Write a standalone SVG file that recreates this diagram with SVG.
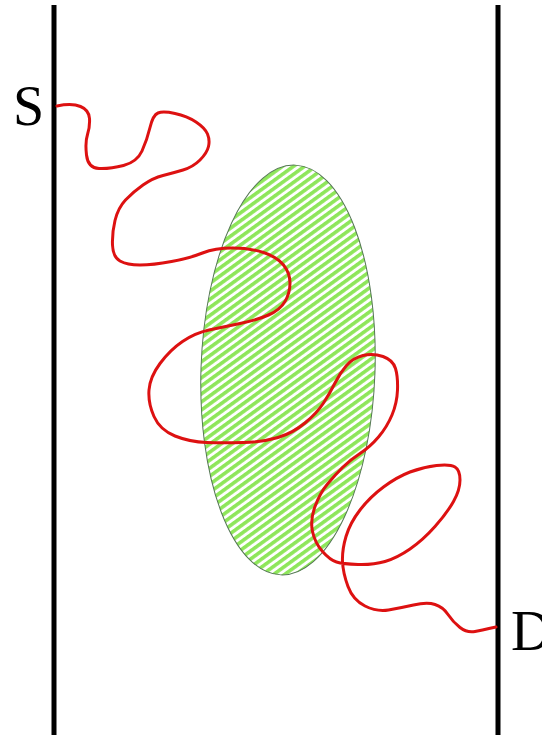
<svg xmlns="http://www.w3.org/2000/svg" width="542" height="735" viewBox="0 0 542 735">
<style>
.wall{stroke:#000;stroke-width:5;fill:none}
.lbl{font-family:"Liberation Serif","Times New Roman",serif;font-size:56px;fill:#000}
.path{stroke:#dd1111;stroke-width:3;fill:none;stroke-linejoin:round;stroke-linecap:round}
</style>
<defs>
<pattern id="hatch" width="6.5" height="6.5" patternUnits="userSpaceOnUse" patternTransform="rotate(52)">
<rect width="6.5" height="6.5" fill="#ffffff"/>
<rect width="3.6" height="6.5" fill="#8ee65a"/>
</pattern>
</defs>
<rect width="542" height="735" fill="#fff"/>
<g id="region">
<ellipse cx="288" cy="370" rx="87" ry="205" transform="rotate(2 288 370)" fill="url(#hatch)" stroke="#557755" stroke-width="1"/>
</g>
<g id="walls">
<line class="wall" x1="54" y1="5" x2="54" y2="735"/>
<line class="wall" x1="498" y1="5" x2="498" y2="735"/>
</g>
<g id="labels">
<text class="lbl" x="13" y="125">S</text>
<text class="lbl" x="511" y="650">D</text>
</g>
<g id="connectors">
<path class="path" d="M57,106 Q72,103 80.5,106.5 Q89,110 89.5,118.5 Q90,127 87.5,134.5 Q85,142 86.5,155 Q88,168 99,168.5 Q110,169 123.5,165.5 Q137,162 142,151 Q147,140 150,127.5 Q153,115 158,113 Q163,111 175,113.5 Q187,116 196,122 Q205,128 207.5,134 Q210,140 208.5,146.5 Q207,153 200,160 Q193,167 183,170 Q173,173 163,175.5 Q153,178 143,185 Q133,192 125.5,200 Q118,208 115,220.5 Q112,233 112.5,245 Q113,257 120,261 Q127,265 140,265 Q153,265 171.5,261.5 Q190,258 202.5,253 Q215,248 232.5,248 Q250,248 263.5,252.5 Q277,257 283.5,265 Q290,273 290,283 Q290,293 285,301.5 Q280,310 268.5,315 Q257,320 240,323.5 Q223,327 209,330 Q195,333 182.5,341.5 Q170,350 160,363.5 Q150,377 149,390 Q148,403 154,416.5 Q160,430 175,436 Q190,442 206.5,442.5 Q223,443 243,442.5 Q263,442 278,437.5 Q293,433 305,423 Q317,413 323.5,403 Q330,393 335,383 Q340,373 346.5,365.5 Q353,358 363,355.5 Q373,353 383,356.5 Q393,360 395.5,368.5 Q398,377 397.5,390 Q397,403 392,415 Q387,427 378.5,437 Q370,447 360,453.5 Q350,460 342.5,467.5 Q335,475 327.5,484 Q320,493 315,506.5 Q310,520 312.5,531.5 Q315,543 322.5,551.5 Q330,560 336.5,562 Q343,564 358,564.5 Q373,565 385,561.5 Q397,558 410,549 Q423,540 435,526.5 Q447,513 453.5,501.5 Q460,490 460,480 Q460,470 455,467 Q450,464 436.5,465.5 Q423,467 410,472 Q397,477 383.5,487 Q370,497 360,510 Q350,523 346,536.5 Q342,550 342.5,561.5 Q343,573 348,586.5 Q353,600 365,606 Q377,612 388.5,610 Q400,608 413.5,605 Q427,602 435,604.5 Q443,607 448,614.5 Q453,622 460,627.5 Q467,633 475,631.5 Q483,630 489,628.5 L496,627"/>
</g>
</svg>
